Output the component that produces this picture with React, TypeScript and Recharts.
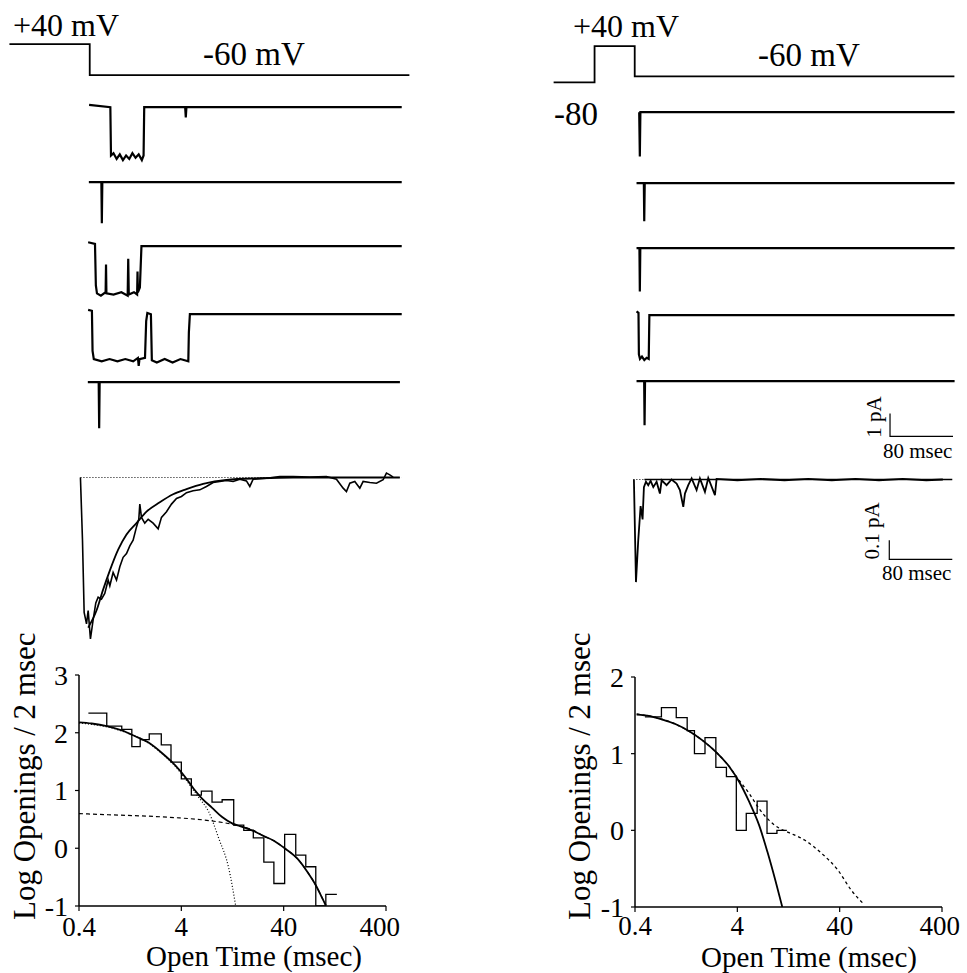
import React from "react";
import { LineChart, Line, XAxis, YAxis } from "recharts";

const INK = "#000";
const SERIF = "'Liberation Serif', 'Times New Roman', serif";

type Pt = [number, number];

// voltage protocols: [msec, mV]
const protocolLeft: Pt[] = [[-102, 40], [0, 40], [0, -60], [406, -60]];
const protocolRight: Pt[] = [[-103, -80], [-51, -80], [-51, 40], [0, 40], [0, -60], [406, -60]];

// single channel sweeps, left column: [msec, pA]
const sweepL1: Pt[] = [[-1, 0.1], [26, 0], [26.8, -2.1], [30, -2.0], [34, -2.25], [38, -2.05], [42, -2.3], [46, -2.1], [50, -2.25], [54, -2.0], [58, -2.2], [62, -2.05], [66, -2.3], [68.2, -2.1], [69, 0], [121, 0], [121.8, -0.45], [122.6, 0], [396, 0]];
const sweepL2: Pt[] = [[-1.3, 0], [14.6, 0], [15.2, -1.78], [15.8, 0], [396, 0]];
const sweepL3: Pt[] = [[-2.2, 0.17], [6.5, 0.1], [7.6, -1.7], [9, -2.05], [14, -2.15], [20, -2.0], [20.5, -0.8], [21, -2.05], [30, -2.1], [40, -2.0], [48, -2.15], [48.7, -0.55], [49.4, -2.1], [56, -2.0], [60, -2.1], [60.5, -1.1], [61, -2.0], [63.5, -1.8], [65.5, 0], [396, 0]];
const sweepL4: Pt[] = [[-2.2, 0.19], [2.6, 0.15], [3.4, -1.6], [5, -1.95], [15, -2.05], [25, -1.95], [35, -2.05], [45, -1.95], [55, -2.05], [61, -1.9], [62, -2.25], [63, -1.95], [70, -1.9], [71.5, -0.3], [73, 0.05], [77.5, 0], [78.7, -2.0], [85, -2.1], [95, -1.95], [105, -2.1], [115, -1.95], [125, -2.05], [125.7, -0.8], [127, 0], [396, 0]];
const sweepL5: Pt[] = [[-2.6, 0], [11.2, 0], [11.8, -2.0], [12.4, 0], [393.7, 0]];

// single channel sweeps, right column
const sweepR1: Pt[] = [[5.5, 0], [6.3, -1.93], [7, 0], [406, 0]];
const sweepR2: Pt[] = [[2.1, 0], [11.4, 0], [11.9, -1.65], [12.5, 0], [406, 0]];
const sweepR3: Pt[] = [[2.1, 0], [5.8, 0], [6.3, -1.88], [6.9, 0], [406, 0]];
const sweepR4: Pt[] = [[2.1, 0.17], [4.6, 0.1], [5.1, -1.7], [6.5, -1.9], [9, -1.8], [12, -1.95], [15, -1.85], [17.6, -1.9], [18.4, 0], [406, 0]];
const sweepR5: Pt[] = [[2.1, 0], [11.8, 0], [12.3, -1.91], [12.9, 0], [406, 0]];

// scale bars (80 msec / 1 pA and 80 msec / 0.1 pA)
const scaleBarSweep: Pt[] = [[324, -1.4], [324, -2.4], [404, -2.4]];
const scaleBarAverage: Pt[] = [[323, -0.32], [323, -0.42], [403, -0.42]];

// ensemble averages
const averageLeft: Pt[] = [[-11.9, 0], [-9.3, -0.33], [-7.2, -0.71], [-4.2, -0.77], [-2.1, -0.7], [0.8, -0.85], [4.2, -0.75], [7.6, -0.66], [10.6, -0.63], [14.8, -0.64], [19.0, -0.61], [23.3, -0.54], [25.4, -0.57], [29.6, -0.5], [33.9, -0.54], [38.1, -0.47], [42.3, -0.42], [46.6, -0.4], [50.8, -0.36], [55.0, -0.33], [59.3, -0.26], [62.2, -0.22], [63.5, -0.14], [65.6, -0.21], [69.8, -0.24], [74.1, -0.22], [80.4, -0.24], [86.8, -0.27], [91.0, -0.21], [97.4, -0.18], [103.7, -0.14], [110.1, -0.11], [116.4, -0.1], [122.8, -0.08], [131.2, -0.07], [139.7, -0.065], [148.1, -0.047], [156.6, -0.026], [165.1, -0.021], [173.5, -0.016], [182.0, -0.021], [190.5, -0.009], [198.9, -0.018], [203.2, -0.047], [207.4, -0.009], [224.3, -0.004], [241.3, 0.005], [258.2, 0.005], [279.4, 0.002], [300.5, 0.005], [313.2, -0.009], [321.7, -0.056], [325.9, -0.074], [330.2, -0.03], [336.5, -0.021], [342.9, -0.056], [347.1, -0.021], [355.6, -0.026], [364.0, -0.03], [372.5, -0.012], [376.7, 0.023], [381.0, 0.014], [385.2, 0.002]];
const fitAverageLeft: Pt[] = [[-2.1, -0.79], [8.5, -0.7], [16.9, -0.59], [25.4, -0.49], [36.0, -0.38], [46.6, -0.3], [59.3, -0.24], [72.0, -0.18], [88.9, -0.13], [105.8, -0.088], [122.8, -0.061], [143.9, -0.033], [173.5, -0.012], [215.9, -0.004], [258.2, 0], [393.7, 0]];
const zeroLeft: Pt[] = [[-11.9, 0], [395.8, 0]];

const averageRight: Pt[] = [[-1.3, 0], [1.3, -0.54], [4.2, -0.32], [7.2, -0.14], [9.7, -0.21], [11.4, -0.04], [14, -0.012], [16.9, -0.03], [19.9, -0.007], [23.3, -0.04], [27.5, -0.012], [31.7, -0.074], [33.9, -0.004], [40.2, -0.03], [46.5, 0], [52.9, -0.021], [57.1, -0.056], [61.4, -0.144], [63.5, -0.074], [67.7, -0.03], [72, 0.006], [78.3, -0.056], [82.5, 0.006], [88.9, -0.065], [93.1, 0.008], [101.6, -0.082], [103.7, 0.003], [130, -0.004], [160, 0.003], [190, -0.004], [220, 0.003], [250, -0.004], [280, 0.003], [310, -0.004], [340, 0.003], [370, -0.004], [391, 0]];
const fitAverageRight: Pt[] = [[12, 0], [403, 0]];
const zeroRight: Pt[] = [[-2, 0], [12, 0]];

// open time histograms: [bin start msec, log openings]
const histLeft: Pt[] = [[0.494, 2.34], [0.747, 2.115], [1.047, 2.06], [1.313, 1.76], [1.585, 1.88], [1.943, 1.98], [2.548, 1.79], [3.17, 1.49], [4.0, 1.2], [5.01, 0.92], [6.28, 0.99], [7.98, 0.8], [10.02, 0.84], [13.0, 0.4], [16.3, 0.31], [20.2, 0.18], [25.6, -0.24], [32.1, -0.61], [40.9, 0.24], [52.5, -0.12], [65.8, -0.32], [82.4, -1.0], [103.3, -0.8], [132.4, -0.8]];
const fitLeft: Pt[] = [[0.4, 2.18], [0.532, 2.16], [0.747, 2.115], [1.047, 2.04], [1.416, 1.94], [1.913, 1.83], [2.584, 1.65], [3.49, 1.435], [4.38, 1.23], [5.28, 1.03], [6.38, 0.86], [8.0, 0.7], [10.02, 0.54], [12.56, 0.43], [15.74, 0.37], [20.2, 0.3], [25.6, 0.21], [32.1, 0.13], [40.9, 0.0], [54.5, -0.18], [68.3, -0.41], [82.4, -0.64], [92.2, -0.81], [103.3, -0.99]];
const slowLeft: Pt[] = [[0.4, 0.6], [0.776, 0.58], [1.645, 0.56], [3.49, 0.53], [7.41, 0.48], [13.0, 0.41], [16.3, 0.37], [20.2, 0.31], [25.6, 0.21], [32.1, 0.13], [40.9, 0.0], [54.5, -0.18], [68.3, -0.41], [82.4, -0.64], [92.2, -0.81], [103.3, -0.99]];
const fastLeft: Pt[] = [[0.4, 2.17], [1.047, 2.03], [1.913, 1.82], [2.584, 1.64], [3.49, 1.42], [4.38, 1.2], [5.28, 1.0], [5.92, 0.88], [7.41, 0.63], [9.29, 0.17], [11.64, -0.35], [13.6, -1.0]];

const histRight: Pt[] = [[0.5, 1.48], [0.725, 1.6], [1.012, 1.47], [1.294, 1.3], [1.524, 1.0], [1.932, 1.21], [2.467, 0.82], [3.13, 0.7], [3.91, 0.0], [4.89, 0.22], [6.25, 0.38], [7.8, -0.04], [9.75, 0.0], [12.19, 0.0]];
const fitRight: Pt[] = [[0.415, 1.51], [0.56, 1.49], [0.754, 1.44], [1.016, 1.38], [1.368, 1.29], [1.84, 1.17], [2.48, 1.02], [3.34, 0.83], [4.18, 0.63], [5.23, 0.37], [6.54, 0.065], [7.87, -0.28], [9.49, -0.67], [11.0, -1.0]];
const slowRight: Pt[] = [[0.415, 1.52], [1.016, 1.38], [1.84, 1.17], [2.48, 1.02], [3.34, 0.83], [4.18, 0.65], [5.23, 0.48], [6.54, 0.28], [8.18, 0.13], [10.2, 0.03], [12.8, -0.03], [18.3, -0.13], [26.6, -0.3], [38.5, -0.52], [51.9, -0.78], [69.8, -0.97]];

const timeTicks = [0.4, 4, 40, 400];
const logTicksLeft = [-1, 0, 1, 2, 3];
const logTicksRight = [-1, 0, 1, 2];

const toRows = (a: Pt[]) => a.map(([t, v]) => ({ t, v }));

type Series = { data: Pt[]; w?: number; dash?: string; curve?: "linear" | "monotone" | "stepAfter" };

// one little chart placed at an absolute spot on the page
function Panel({ left, top, width, height, xDomain, yDomain, series }: {
  left: number; top: number; width: number; height: number;
  xDomain: [number, number]; yDomain: [number, number]; series: Series[];
}) {
  return (
    <div style={{ position: "absolute", left, top, width, height }}>
      <LineChart width={width} height={height} margin={{ top: 0, right: 0, bottom: 0, left: 0 }}>
        <XAxis type="number" dataKey="t" domain={xDomain} hide />
        <YAxis type="number" dataKey="v" domain={yDomain} hide />
        {series.map((s, k) => (
          <Line key={k} data={toRows(s.data)} dataKey="v" type={s.curve ?? "linear"} stroke={INK}
            strokeWidth={s.w ?? 1.6} strokeDasharray={s.dash} dot={false} activeDot={false} isAnimationActive={false} />
        ))}
      </LineChart>
    </div>
  );
}

function Histogram({ left, top, width, height, yWidth, mRight, mTop, xHeight, xGap, yDomain, yTicks, series }: {
  left: number; top: number; width: number; height: number; yWidth: number; mRight: number; mTop: number;
  xHeight: number; xGap: number; yDomain: [number, number]; yTicks: number[]; series: Series[];
}) {
  const tick = { fontSize: 27, fill: INK, fontFamily: SERIF };
  return (
    <div style={{ position: "absolute", left, top, width, height }}>
      <LineChart width={width} height={height} margin={{ top: mTop, right: mRight, bottom: 0, left: 0 }}>
        <XAxis type="number" dataKey="t" scale="log" domain={[0.4, 400]} ticks={timeTicks} allowDataOverflow
          height={xHeight} tick={tick} tickSize={5} tickMargin={xGap}
          axisLine={{ stroke: INK, strokeWidth: 1.5 }} tickLine={{ stroke: INK, strokeWidth: 1.2 }} />
        <YAxis type="number" dataKey="v" domain={yDomain} ticks={yTicks} allowDataOverflow width={yWidth}
          tick={{ ...tick, fontSize: 28 }} tickSize={4} tickMargin={7}
          axisLine={{ stroke: INK, strokeWidth: 1.5 }} tickLine={{ stroke: INK, strokeWidth: 1.2 }} />
        {series.map((s, k) => (
          <Line key={k} data={toRows(s.data)} dataKey="v" type={s.curve ?? "monotone"} stroke={INK}
            strokeWidth={s.w ?? 1.4} strokeDasharray={s.dash} dot={false} activeDot={false} isAnimationActive={false} />
        ))}
      </LineChart>
    </div>
  );
}

const SWEEP_W = 330.75;
const SWEEP_H = 69;
const sweepDomainX: [number, number] = [-10, 410];
const sweepDomainY: [number, number] = [-2.6, 0.4];

export default function App() {
  const sweepsLeft = [sweepL1, sweepL2, sweepL3, sweepL4, sweepL5];
  const baseLeft = [107.3, 181.7, 245.7, 314.3, 382.3];
  const sweepsRight = [sweepR1, sweepR2, sweepR3, sweepR4, sweepR5];
  const baseRight = [112.3, 182.7, 248.3, 315, 381];

  const txt = { fontFamily: SERIF, fill: INK } as const;

  return (
    <div style={{ position: "absolute", left: 0, top: 0, width: 967, height: 973, background: "#fff", overflow: "hidden" }}>
      {/* voltage protocols */}
      <Panel left={7.3} top={40.9} width={405.6} height={37.2} xDomain={[-105, 410]} yDomain={[-70, 50]}
        series={[{ data: protocolLeft, w: 1.8 }]} />
      <Panel left={552.3} top={42.7} width={405.6} height={42.4} xDomain={[-105, 410]} yDomain={[-90, 50]}
        series={[{ data: protocolRight, w: 1.8 }]} />

      {/* single channel sweeps */}
      {sweepsLeft.map((s, k) => (
        <Panel key={"l" + k} left={82.1} top={baseLeft[k] - 9.2} width={SWEEP_W} height={SWEEP_H}
          xDomain={sweepDomainX} yDomain={sweepDomainY} series={[{ data: s, w: 2.2 }]} />
      ))}
      {sweepsRight.map((s, k) => (
        <Panel key={"r" + k} left={627.1} top={baseRight[k] - 9.2} width={SWEEP_W} height={SWEEP_H}
          xDomain={sweepDomainX} yDomain={sweepDomainY}
          series={k === 4 ? [{ data: s, w: 2.2 }, { data: scaleBarSweep, w: 1.2 }] : [{ data: s, w: 2.2 }]} />
      ))}

      {/* ensemble averages */}
      <Panel left={78.2} top={468.2} width={326.8} height={180.5} xDomain={[-15, 400]} yDomain={[-0.9, 0.05]}
        series={[
          { data: zeroLeft, w: 1, dash: "1 2" },
          { data: averageLeft, w: 1.6 },
          { data: fitAverageLeft, w: 1.8, curve: "monotone" },
        ]} />
      <Panel left={631.1} top={469.8} width={326.8} height={123.5} xDomain={[-5, 410]} yDomain={[-0.6, 0.05]}
        series={[
          { data: zeroRight, w: 1, dash: "1 2" },
          { data: fitAverageRight, w: 1.6 },
          { data: averageRight, w: 1.8 },
          { data: scaleBarAverage, w: 1.2 },
        ]} />

      {/* open time histograms */}
      <Histogram left={0} top={650} width={400} height={323} yWidth={79} mRight={14} mTop={25} xHeight={67} xGap={6}
        yDomain={[-1, 3]} yTicks={logTicksLeft}
        series={[
          { data: histLeft, curve: "stepAfter", w: 1.3 },
          { data: slowLeft, dash: "4 3", w: 1.2 },
          { data: fastLeft, dash: "1 2", w: 1.2 },
          { data: fitLeft, w: 1.8 },
        ]} />
      <Histogram left={540} top={650} width={420} height={323} yWidth={95} mRight={18} mTop={27} xHeight={66} xGap={4}
        yDomain={[-1, 2]} yTicks={logTicksRight}
        series={[
          { data: histRight, curve: "stepAfter", w: 1.3 },
          { data: slowRight, dash: "3 3", w: 1.3 },
          { data: fitRight, w: 1.8 },
        ]} />

      {/* labels */}
      <svg width={967} height={973} style={{ position: "absolute", left: 0, top: 0, pointerEvents: "none" }}>
        <text x={13} y={36} fontSize={32} {...txt}>+40 mV</text>
        <text x={203} y={65} fontSize={33} {...txt}>-60 mV</text>
        <text x={573} y={37} fontSize={32} {...txt}>+40 mV</text>
        <text x={758} y={66} fontSize={33} {...txt}>-60 mV</text>
        <text x={554} y={125} fontSize={33} {...txt}>-80</text>

        <text x={881} y={417} fontSize={21} textAnchor="middle" transform="rotate(-90 881 417)" {...txt}>1 pA</text>
        <text x={883} y={458} fontSize={21} {...txt}>80 msec</text>
        <text x={879} y={531} fontSize={21} textAnchor="middle" transform="rotate(-90 879 531)" {...txt}>0.1 pA</text>
        <text x={882} y={580} fontSize={21} {...txt}>80 msec</text>

        <text x={35} y={920} fontSize={31} transform="rotate(-90 35 920)" {...txt}>Log Openings / 2 msec</text>
        <text x={590} y={920} fontSize={31} transform="rotate(-90 590 920)" {...txt}>Log Openings / 2 msec</text>
        <text x={254} y={966} fontSize={29} textAnchor="middle" {...txt}>Open Time (msec)</text>
        <text x={809} y={967} fontSize={29} textAnchor="middle" {...txt}>Open Time (msec)</text>
      </svg>
    </div>
  );
}
